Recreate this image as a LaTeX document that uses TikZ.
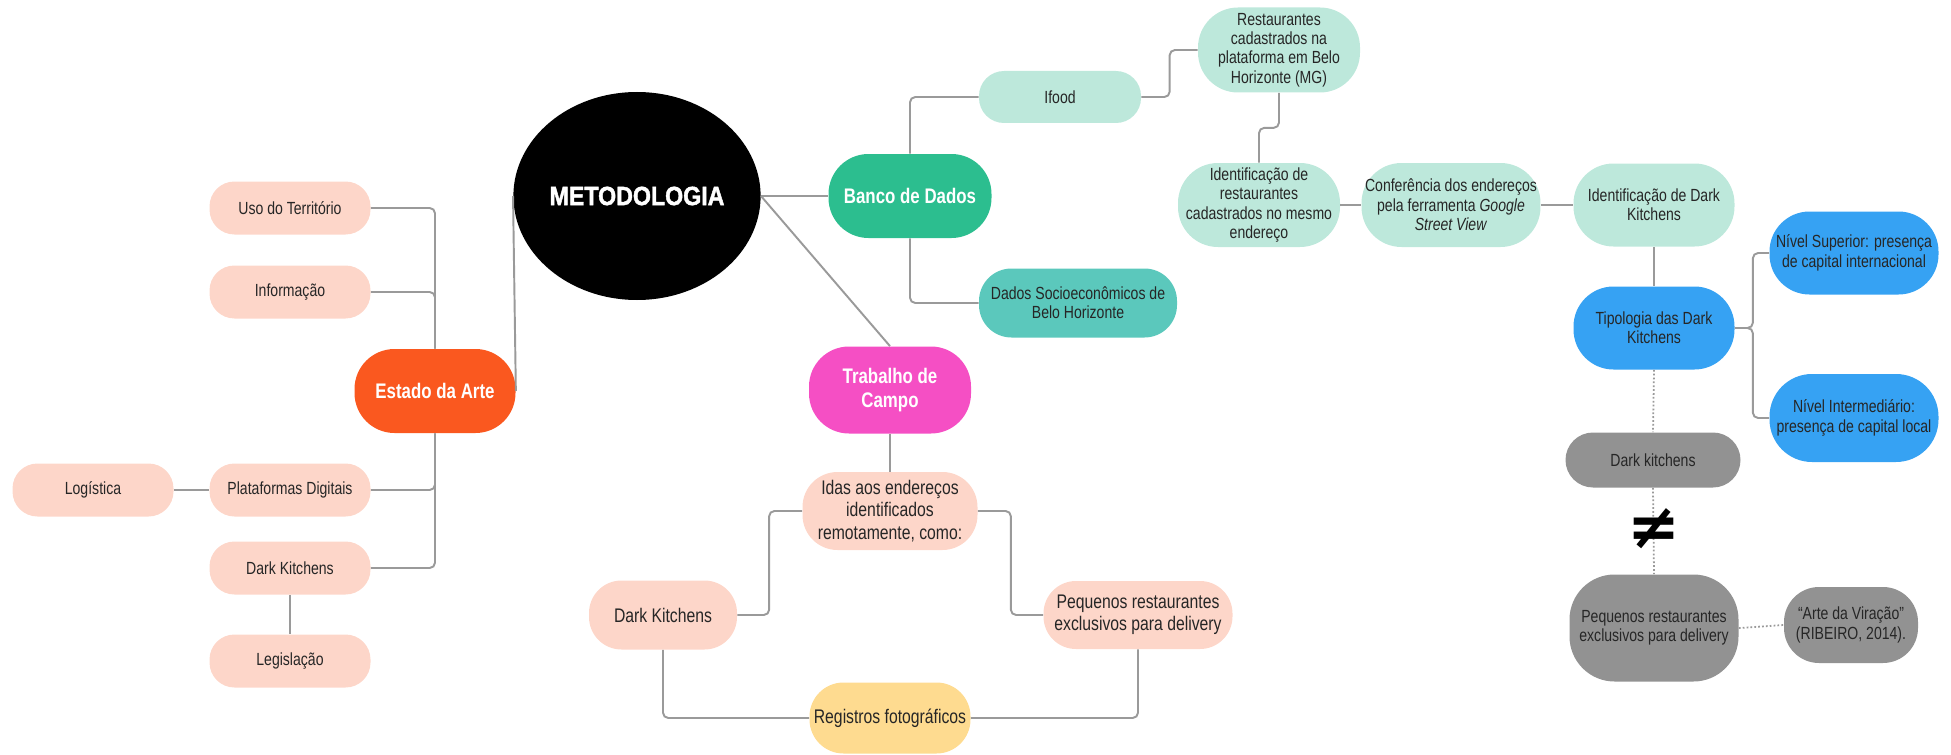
\documentclass[tikz,border=0pt]{standalone}
\usepackage{fontspec}
\setmainfont{Liberation Sans}[FakeStretch=0.8]
\newfontfamily\metafont{Liberation Sans}[FakeStretch=0.88, BoldFeatures={FakeBold=1.6}]
\newfontfamily\symfont{DejaVu Sans}
\usetikzlibrary{shapes.geometric}

\definecolor{peach}{HTML}{FDD6C9}
\definecolor{mint}{HTML}{BDE8DB}
\definecolor{teal}{HTML}{5BC8BC}
\definecolor{jade}{HTML}{2CBE8F}
\definecolor{fieldpink}{HTML}{F54FC4}
\definecolor{redorange}{HTML}{FA581F}
\definecolor{sand}{HTML}{FEDB90}
\definecolor{sky}{HTML}{36A2F3}
\definecolor{stone}{HTML}{929292}
\definecolor{linegray}{HTML}{9A9A9A}
\definecolor{textdark}{HTML}{262626}

\tikzset{
  bubble/.style={align=center, inner sep=2pt, text=textdark,
    font=\fontsize{10}{11}\selectfont, rounded corners=0.5cm, minimum height=1.06cm},
  leaf/.style={bubble, fill=peach, minimum width=3.22cm},
  fieldbox/.style={bubble, fill=peach, font=\fontsize{11.2}{12.6}\selectfont},
  headbox/.style={bubble, text=white, font=\bfseries\fontsize{12}{14}\selectfont,
    rounded corners=0.8cm, minimum height=1.68cm},
  link/.style={draw=linegray, line width=1.1pt, rounded corners=3pt},
  dotlink/.style={draw=linegray, line width=1pt, dash pattern=on 1pt off 1.2pt},
}

\begin{document}
\begin{tikzpicture}
  \useasboundingbox (0,0) rectangle (39.02,-15.1);

  % centro
  \node[ellipse, fill=black, minimum width=4.88cm, minimum height=4.16cm, inner sep=0,
    text=white, font=\metafont\bfseries\fontsize{15}{18}\selectfont] (meta) at (12.74,-3.92) {METODOLOGIA};

  % estado da arte
  \node[headbox, fill=redorange, minimum width=3.22cm] (estado) at (8.70,-7.82) {Estado da Arte};
  \node[leaf] (uso) at (5.80,-4.16) {Uso do Território};
  \node[leaf] (info) at (5.80,-5.84) {Informação};
  \node[leaf] (plat) at (5.80,-9.80) {Plataformas Digitais};
  \node[leaf] (logi) at (1.86,-9.80) {Logística};
  \node[leaf] (dk1) at (5.80,-11.36) {Dark Kitchens};
  \node[leaf] (legis) at (5.80,-13.22) {Legislação};

  % banco de dados
  \node[headbox, fill=jade, minimum width=3.26cm] (banco) at (18.20,-3.92) {Banco de Dados};
  \node[bubble, fill=mint, minimum width=3.24cm, minimum height=1.04cm] (ifood) at (21.20,-1.94) {Ifood};
  \node[bubble, fill=teal, minimum width=3.96cm, minimum height=1.38cm, rounded corners=0.65cm] (socio) at (21.56,-6.06)
    {Dados Socioeconômicos de\\Belo Horizonte};
  \node[bubble, fill=mint, minimum width=3.24cm, minimum height=1.70cm, rounded corners=0.8cm] (restcad) at (25.58,-1.00)
    {Restaurantes\\cadastrados na\\plataforma em Belo\\Horizonte (MG)};
  \node[bubble, fill=mint, minimum width=3.24cm, minimum height=1.68cm, rounded corners=0.8cm] (identrest) at (25.18,-4.10)
    {Identificação de\\restaurantes\\cadastrados no mesmo\\endereço};
  \node[bubble, fill=mint, minimum width=3.56cm, minimum height=1.68cm, rounded corners=0.8cm] (confer) at (29.02,-4.10)
    {Conferência dos endereços\\pela ferramenta \textit{Google}\\\textit{Street View}};
  \node[bubble, fill=mint, minimum width=3.22cm, minimum height=1.66cm, rounded corners=0.8cm] (identdk) at (33.08,-4.10)
    {Identificação de Dark\\Kitchens};
  \node[bubble, fill=sky, minimum width=3.22cm, minimum height=1.66cm, rounded corners=0.8cm] (tipo) at (33.08,-6.56)
    {Tipologia das Dark\\Kitchens};
  \node[bubble, fill=sky, minimum width=3.38cm, minimum height=1.66cm, rounded corners=0.8cm] (nsup) at (37.08,-5.06)
    {Nível Superior: presença\\de capital internacional};
  \node[bubble, fill=sky, minimum width=3.38cm, minimum height=1.76cm, rounded corners=0.85cm] (nint) at (37.08,-8.36)
    {Nível Intermediário:\\presença de capital local};
  \node[bubble, fill=stone, minimum width=3.50cm, minimum height=1.10cm, rounded corners=0.55cm] (dkgray) at (33.06,-9.20)
    {Dark kitchens};
  \node[bubble, fill=stone, minimum width=3.38cm, minimum height=2.14cm, rounded corners=0.9cm] (pqgray) at (33.08,-12.56)
    {Pequenos restaurantes\\exclusivos para delivery};
  \node[bubble, fill=stone, minimum width=2.68cm, minimum height=1.52cm, rounded corners=0.7cm] (arte) at (37.02,-12.50)
    {“Arte da Viração”\\(RIBEIRO, 2014).};

  % trabalho de campo
  \node[headbox, fill=fieldpink, minimum width=3.24cm, minimum height=1.74cm] (trab) at (17.80,-7.80) {Trabalho de\\Campo};
  \node[fieldbox, minimum width=3.50cm, minimum height=1.56cm, rounded corners=0.7cm] (idas) at (17.80,-10.22)
    {Idas aos endereços\\identificados\\remotamente, como:};
  \node[fieldbox, minimum width=2.96cm, minimum height=1.38cm, rounded corners=0.65cm] (dk2) at (13.26,-12.30)
    {Dark Kitchens};
  \node[fieldbox, minimum width=3.78cm, minimum height=1.36cm, rounded corners=0.65cm] (pq2) at (22.76,-12.30)
    {Pequenos restaurantes\\exclusivos para delivery};
  \node[fieldbox, fill=sand, minimum width=3.22cm, minimum height=1.42cm, rounded corners=0.68cm] (regis) at (17.80,-14.36)
    {Registros fotográficos};

  % ligacoes
  \draw[link] (uso.east) -| (estado.north);
  \draw[link] (info.east) -| (estado.north);
  \draw[link] (plat.east) -| (estado.south);
  \draw[link] (dk1.east) -| (estado.south);
  \draw[link] (logi) -- (plat);
  \draw[link] (dk1) -- (legis);
  \draw[link] (estado.east) -- (meta.west);
  \draw[link] (meta.east) -- (banco.west);
  \draw[link] (meta.east) -- (trab.north);
  \draw[link] (banco.north) |- (ifood.west);
  \draw[link] (banco.south) |- (socio.west);
  \draw[link] (ifood.east) -| ([xshift=-0.56cm]restcad.west) -- (restcad.west);
  \draw[link] (restcad.south) -- ++(0,-0.7) -| (identrest.north);
  \draw[link] (identrest) -- (confer);
  \draw[link] (confer) -- (identdk);
  \draw[link] (identdk) -- (tipo);
  \draw[link] (tipo.east) -- ++(0.36,0) |- (nsup.west);
  \draw[link] (tipo.east) -- ++(0.36,0) |- (nint.west);
  \draw[dotlink] (tipo.south) -- (dkgray.north);
  \draw[dotlink] (dkgray.south) -- (pqgray.north);
  \draw[dotlink] (pqgray.east) -- (arte.west);
  \draw[link] (trab) -- (idas);
  \draw[link] (idas.west) -- ++(-0.66,0) |- (dk2.east);
  \draw[link] (idas.east) -- ++(0.66,0) |- (pq2.west);
  \draw[link] (dk2.south) |- (regis.west);
  \draw[link] (pq2.south) |- (regis.east);

  \node[inner sep=0, font=\symfont\bfseries\fontsize{36}{36}\selectfont] (neq) at (33.08,-10.58) {≠};
\end{tikzpicture}
\end{document}
